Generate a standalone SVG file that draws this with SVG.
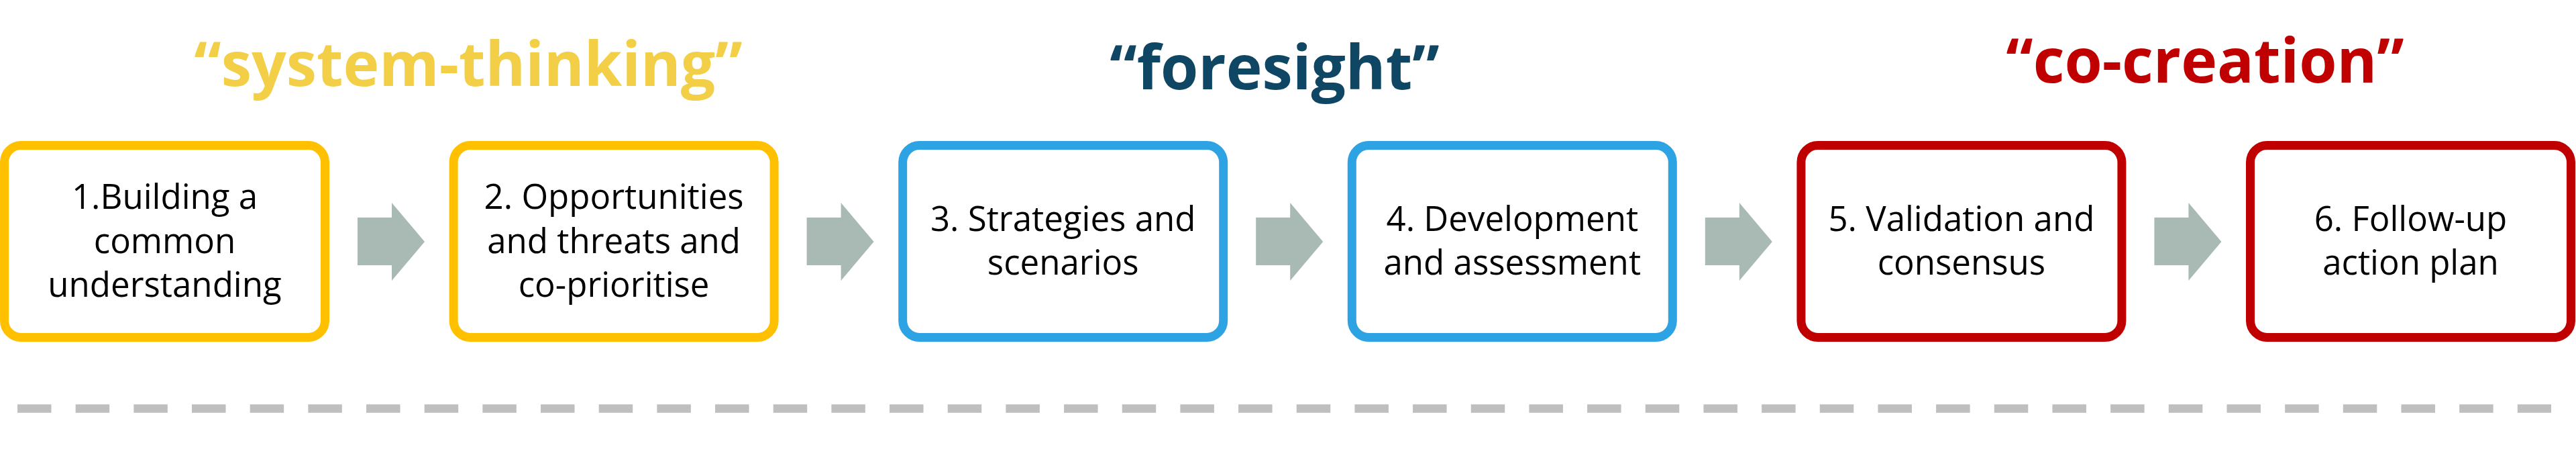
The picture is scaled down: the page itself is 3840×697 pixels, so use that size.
<svg xmlns="http://www.w3.org/2000/svg" width="3840" height="697" viewBox="0 0 3840 697">
<defs>
<style>
.box{fill:#FFFFFF;stroke-width:13}
.y{stroke:#FFC000}
.b{stroke:#2EA3E3}
.r{stroke:#C00000}
.lbl{font-family:"Open Sans","Noto Sans","Liberation Sans",sans-serif;font-size:51px;fill:#000000;text-anchor:middle}
.ttl{font-family:"Open Sans","Noto Sans","Liberation Sans",sans-serif;font-size:91px;font-weight:bold;text-anchor:middle}
.arrow{fill:#A9B9B4}
</style>
<polygon id="arr" points="533,324 584,324 584,302 633,360 584,418 584,395 533,395"/>
</defs>
<rect width="3840" height="697" fill="#FFFFFF"/>
<g id="titles">
<text class="ttl" x="698" y="128" fill="#F2CF46">“system-thinking”</text>
<text class="ttl" x="1900" y="133" fill="#0E4663">“foresight”</text>
<text class="ttl" x="3287" y="123" fill="#C00000">“co-creation”</text>
</g>
<g id="connectors">
<use href="#arr" class="arrow"/>
<use href="#arr" class="arrow" x="669.6"/>
<use href="#arr" class="arrow" x="1339.2"/>
<use href="#arr" class="arrow" x="2008.8"/>
<use href="#arr" class="arrow" x="2678.4"/>
</g>
<g id="node1">
<rect class="box y" x="6.5" y="216.5" width="478" height="286" rx="25"/>
<text class="lbl" x="245.5" y="311">1.Building a</text>
<text class="lbl" x="245.5" y="377">common</text>
<text class="lbl" x="245.5" y="442">understanding</text>
</g>
<g id="node2">
<rect class="box y" x="676.1" y="216.5" width="478" height="286" rx="25"/>
<text class="lbl" x="915.1" y="311">2. Opportunities</text>
<text class="lbl" x="915.1" y="377">and threats and</text>
<text class="lbl" x="915.1" y="442">co-prioritise</text>
</g>
<g id="node3">
<rect class="box b" x="1345.7" y="216.5" width="478" height="286" rx="25"/>
<text class="lbl" x="1584.7" y="344">3. Strategies and</text>
<text class="lbl" x="1584.7" y="409">scenarios</text>
</g>
<g id="node4">
<rect class="box b" x="2015.3" y="216.5" width="478" height="286" rx="25"/>
<text class="lbl" x="2254.3" y="344">4. Development</text>
<text class="lbl" x="2254.3" y="409">and assessment</text>
</g>
<g id="node5">
<rect class="box r" x="2684.9" y="216.5" width="478" height="286" rx="25"/>
<text class="lbl" x="2923.9" y="344">5. Validation and</text>
<text class="lbl" x="2923.9" y="409">consensus</text>
</g>
<g id="node6">
<rect class="box r" x="3354.5" y="216.5" width="478" height="286" rx="25"/>
<text class="lbl" x="3593.5" y="344">6. Follow-up</text>
<text class="lbl" x="3593.5" y="409">action plan</text>
</g>
<line id="divider" x1="26" y1="608.5" x2="3803" y2="608.5" stroke="#BFBFBF" stroke-width="12.5" stroke-dasharray="50.5 36.17"/>
</svg>
